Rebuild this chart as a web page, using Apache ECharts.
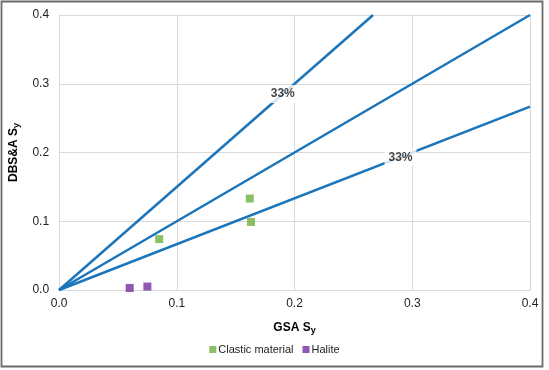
<!DOCTYPE html>
<html><head><meta charset="utf-8">
<script src="https://cdn.jsdelivr.net/npm/echarts@6/dist/echarts.min.js"></script>
<style>html,body{margin:0;padding:0;background:#fff}#c{width:549px;height:370px}</style>
</head><body><div id="c"></div>
<script>
const xTicks = [0, 0.1, 0.2, 0.3, 0.4];
const yTicks = [0, 0.1, 0.2, 0.3, 0.4];
const clastic = [[0.085, 0.074], [0.162, 0.133], [0.163, 0.099]];
const halite = [[0.060, 0.003], [0.075, 0.005]];
const line150 = [[0, 0], [0.2667, 0.4]];
const line100 = [[0, 0], [0.4, 0.4]];
const line067 = [[0, 0], [0.4, 0.2667]];
const labelPts = [[0.19, 0.285], [0.29, 0.193]];
const labelText = ['33%', '33%'];

const chart = echarts.init(document.getElementById('c'), null, {renderer: 'canvas'});
const font = 'Liberation Sans, Arial, sans-serif';
const blue = '#1B75BB';
const lineSeries = (d) => ({type: 'line', data: d, symbol: 'none', silent: true,
  lineStyle: {color: blue, width: 2.5}, z: 3});
chart.setOption({
  animation: false,
  textStyle: {fontFamily: font},
  grid: {left: 57, right: 19, top: 15, bottom: 80},
  graphic: [{type: 'rect', shape: {x: 1.5, y: 1.5, width: 541, height: 365},
    style: {fill: 'none', stroke: '#6a6a6a', lineWidth: 1.8}, z: 100}],
  legend: {
    data: ['Clastic material', 'Halite'], bottom: 10, left: 'center',
    icon: 'rect', itemWidth: 7, itemHeight: 7, itemGap: 9,
    textStyle: {fontSize: 11, color: '#222', fontFamily: font, padding: [0, 0, 0, -3]}
  },
  xAxis: {
    type: 'value', min: 0, max: 0.4, interval: 0.1,
    name: '{b|GSA S}{s|y}', nameLocation: 'middle', nameGap: 30,
    nameTextStyle: {rich: {
      b: {fontSize: 12, fontWeight: 'bold', color: '#000', fontFamily: font},
      s: {fontSize: 9, fontWeight: 'bold', color: '#000', fontFamily: font, padding: [6, 0, 0, 0]}}},
    axisLine: {lineStyle: {color: '#d9d9d9'}}, axisTick: {show: false},
    splitLine: {lineStyle: {color: '#d9d9d9'}},
    axisLabel: {fontSize: 12, color: '#222', margin: 8, formatter: v => v.toFixed(1)}
  },
  yAxis: {
    type: 'value', min: 0, max: 0.4, interval: 0.1,
    name: '{b|DBS&A S}{s|y}', nameLocation: 'middle', nameGap: 29, nameRotate: 90,
    nameTextStyle: {rich: {
      b: {fontSize: 12, fontWeight: 'bold', color: '#000', fontFamily: font},
      s: {fontSize: 9, fontWeight: 'bold', color: '#000', fontFamily: font, padding: [6, 0, 0, 0]}}},
    axisLine: {show: true, lineStyle: {color: '#d9d9d9'}}, axisTick: {show: false},
    splitLine: {lineStyle: {color: '#d9d9d9'}},
    axisLabel: {fontSize: 12, color: '#222', margin: 10, formatter: v => v.toFixed(1)}
  },
  series: [
    lineSeries(line150), lineSeries(line100), lineSeries(line067),
    {type: 'scatter', name: 'Clastic material', data: clastic, symbol: 'rect', symbolSize: 8,
      itemStyle: {color: '#6FB03F'}, z: 4},
    {type: 'scatter', name: 'Halite', data: halite, symbol: 'rect', symbolSize: 8,
      itemStyle: {color: '#7030A0'}, z: 4},
    {type: 'scatter', data: labelPts.map((p, i) => ({value: p, name: labelText[i]})),
      symbolSize: 1, itemStyle: {color: 'rgba(0,0,0,0)'}, silent: true, z: 5,
      label: {show: true, position: 'inside', formatter: p => p.name, fontSize: 12, fontWeight: 'bold',
        color: '#111', backgroundColor: '#fff', padding: [3, 4, 3, 4], fontFamily: font}}
  ]
});
</script></body></html>
